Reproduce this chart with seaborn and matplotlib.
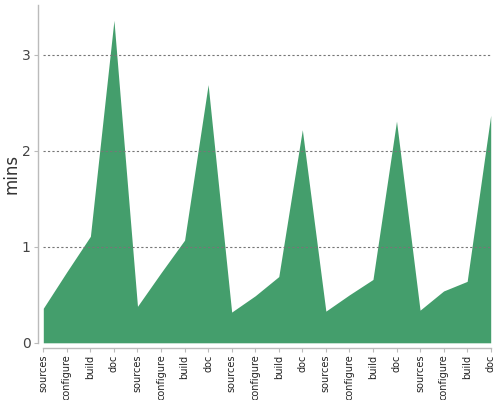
import pandas as pd
import matplotlib
matplotlib.use('Agg')
import matplotlib.pyplot as plt
import seaborn as sns

# stage names repeat for each of the five runs
stages = ['sources', 'configure', 'build', 'doc'] * 5

# minutes per stage
mins = [0.36, 0.74, 1.11, 3.36,
        0.38, 0.73, 1.07, 2.69,
        0.32, 0.49, 0.69, 2.22,
        0.33, 0.50, 0.66, 2.31,
        0.34, 0.54, 0.64, 2.37]

df = pd.DataFrame({'stage': stages, 'mins': mins})
df['pos'] = range(len(df))

sns.set_style('ticks')
plt.rcParams['font.family'] = ['DejaVu Sans']

fig = plt.figure(figsize=(5, 4), dpi=100)
ax = fig.add_axes([0.0866, 0.143, 0.8948, 0.8445])

ax.fill_between(df['pos'], df['mins'], color='#449e6c', linewidth=0, zorder=1)

# despine first: moving spines resets tick label styling
sns.despine(ax=ax, offset=4)
for side in ['left', 'bottom']:
    ax.spines[side].set_color('#bbbbbb')
    ax.spines[side].set_linewidth(1)

ax.set_xlim(0, len(df) - 1)
ax.set_ylim(0, 3.52)
ax.set_xticks(df['pos'])
ax.set_xticklabels(df['stage'], rotation=90, fontsize=7)
ax.set_yticks([0, 1, 2, 3])
ax.set_yticklabels(['0', '1', '2', '3'], fontsize=10)
ax.tick_params(axis='both', color='#bbbbbb', length=3, width=0.8)
ax.tick_params(axis='x', labelcolor='#222222', pad=1.5)
ax.tick_params(axis='y', labelcolor='#444444', pad=2)

for v in [1, 2, 3]:
    ax.axhline(v, color='#777777', linestyle=(0, (2, 2)), linewidth=0.8, zorder=2)

ax.set_xlabel('')
ax.set_ylabel('mins', fontsize=12, color='#333333')
ax.yaxis.set_label_coords(-0.052, 0.5)

fig.savefig('out.png', dpi=100)
